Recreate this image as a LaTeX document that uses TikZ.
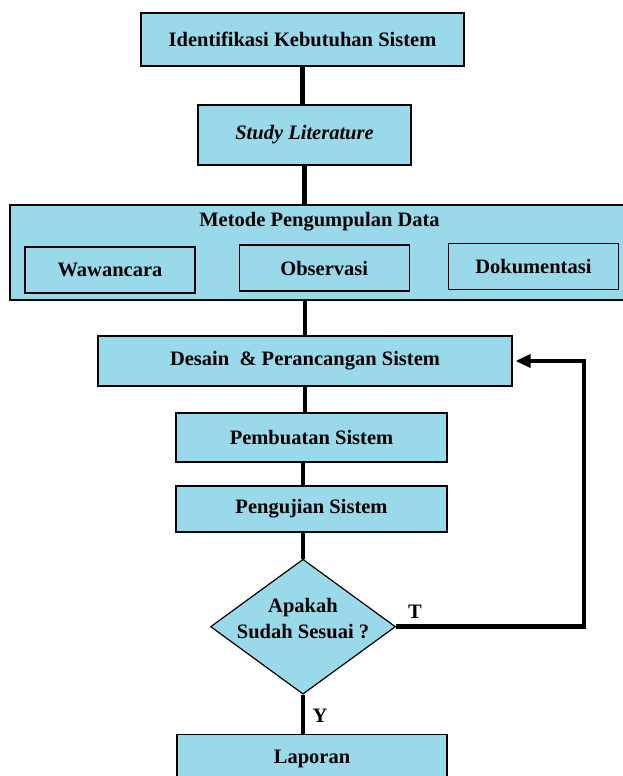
\documentclass[tikz,border=0pt]{standalone}
\usepackage{fontspec}
\setmainfont{Liberation Serif}
\usetikzlibrary{arrows.meta,positioning,shapes.geometric}
\definecolor{boxblue}{RGB}{153,217,234}

\begin{document}
\begin{tikzpicture}[
      node distance=30pt,
      font=\fontsize{20.5}{26}\selectfont\bfseries,
      box/.style={draw=black, fill=boxblue, line width=1.2pt, inner sep=0pt, align=center},
      subbox/.style={draw=black, fill=boxblue, line width=1.2pt, inner sep=0pt, minimum width=170pt, minimum height=46pt},
      link/.style={line width=4.5pt, color=black},
      back/.style={line width=4.5pt, color=black, line join=miter, -{Triangle[length=15pt,width=13pt]}, shorten >=3pt}
    ]
      \useasboundingbox (0,0) rectangle (623pt,776pt);

      % top of the flow
      \node[box, minimum width=323pt, minimum height=53pt] (ident) at (302.5pt,736.5pt) {Identifikasi Kebutuhan Sistem};
      \node[box, minimum width=213pt, minimum height=60pt, below=37.8pt of ident, xshift=2pt] (study) {\itshape Study Literature};

      % data collection
      \node[box, minimum width=615pt, minimum height=95pt, below=38.8pt of study, xshift=13pt] (metode) {};
      \node[below=6pt of metode.north, xshift=2pt, inner sep=2pt] (metodetitle) {Metode Pengumpulan Data};
      \node[subbox, above right=7pt and 15pt of metode.south west] (wawan) {Wawancara};
      \node[subbox, right=43pt of wawan, yshift=2pt] (obs) {Observasi};
      \node[subbox, right=38pt of obs, yshift=1.5pt] (doku) {Dokumentasi};

      % design and build
      \node[box, minimum width=414pt, minimum height=50pt, below=34.8pt of metode, xshift=-12.5pt] (desain) {Desain~~\& Perancangan Sistem};
      \node[box, minimum width=271pt, minimum height=49pt, below=25.8pt of desain, xshift=6.5pt] (buat) {Pembuatan Sistem};
      \node[box, minimum width=271pt, minimum height=46pt, below=22.8pt of buat] (uji) {Pengujian Sistem};

      % decision
      \node[box, diamond, minimum width=185pt, minimum height=135pt, below=26pt of uji, xshift=-8.5pt] (cek) {};
      \node[align=center, inner sep=0pt, yshift=8pt] (cektext) at (cek) {Apakah\\Sudah Sesuai ?};
      \node[box, minimum width=270pt, minimum height=50pt, below=39pt of cek, xshift=9pt] (lapor) {Laporan};

      \draw[link] (ident.south) -- (ident.south |- study.north);
      \draw[link] (study.south) -- (study.south |- metode.north);
      \draw[link] (desain.north |- metode.south) -- (desain.north);
      \draw[link] (desain.south) -- (desain.south |- buat.north);
      \draw[link] (cek.north |- buat.south) -- (cek.north |- uji.north);
      \draw[link] (cek.north |- uji.south) -- (cek.north);
      \draw[link] (cek.south) -- node[right=4pt, pos=0.55] {Y} (cek.south |- lapor.north);
      \draw[back] (cek.east) -- node[above=3pt, pos=0.1] {T} ++(188pt,0) |- (desain.east);
    \end{tikzpicture}
\end{document}
